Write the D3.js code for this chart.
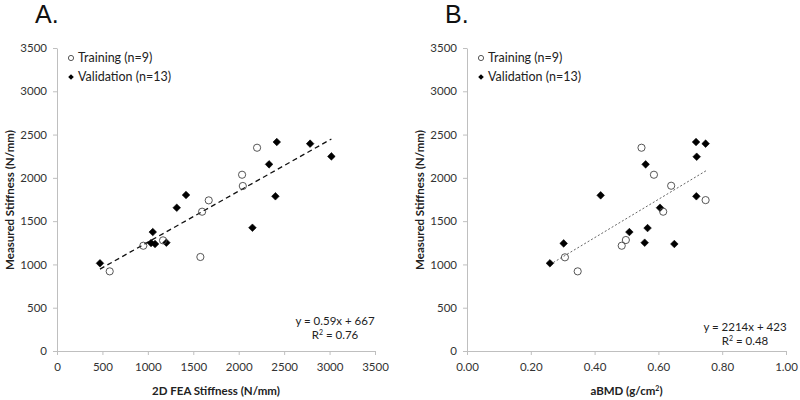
<!DOCTYPE html>
<html><head><meta charset="utf-8">
<script src="https://cdn.jsdelivr.net/npm/d3@7"></script>
<style>body{margin:0;background:#fff}svg{display:block}</style>
</head><body>
<svg id="c" width="800" height="400"></svg>
<script>
// Panel A data: 2D FEA stiffness (N/mm) vs measured stiffness (N/mm)
const trainA_x = [580, 950, 1167, 1578, 1597, 1670, 2037, 2045, 2202];
const trainA_y = [920, 1216, 1278, 1086, 1609, 1740, 2036, 1906, 2348];
const validA_x = [473, 1054, 1035, 1079, 1204, 1318, 1420, 2151, 2334, 2419, 2404, 2786, 3020];
const validA_y = [1013, 1374, 1247, 1236, 1251, 1655, 1802, 1424, 2156, 2414, 1787, 2395, 2248];
// Panel B data: aBMD (g/cm2) vs measured stiffness
const trainB_x = [0.307, 0.347, 0.485, 0.498, 0.615, 0.547, 0.586, 0.640, 0.748];
const trainB_y = [1082, 920, 1216, 1282, 1609, 2348, 2036, 1909, 1743];
const validB_x = [0.260, 0.303, 0.419, 0.509, 0.557, 0.560, 0.566, 0.605, 0.650, 0.718, 0.720, 0.719, 0.748];
const validB_y = [1013, 1243, 1798, 1374, 1251, 2156, 1420, 1655, 1236, 2414, 2244, 1787, 2395];
// Fits
const fitA = {slope: 0.59, intercept: 667, x0: 473, x1: 3020};
const fitB = {slope: 2214, intercept: 423, x0: 0.26, x1: 0.75};
const ticksA_x = [0, 500, 1000, 1500, 2000, 2500, 3000, 3500];
const ticksB_x = [0, 0.2, 0.4, 0.6, 0.8, 1.0];
const ticksY = [0, 500, 1000, 1500, 2000, 2500, 3000, 3500];
const legendLabels = ["Training (n=9)", "Validation (n=13)"];

const svg = d3.select("#c");
const FONT = "Lato, 'Open Sans', sans-serif";
const diamondPath = r => `M0,${-r}L${r},0L0,${r}L${-r},0Z`;

function panel(opt) {
  const g = svg.append("g");
  const x = d3.scaleLinear().domain(opt.xdom).range([opt.left, opt.right]);
  const y = d3.scaleLinear().domain([0, 3500]).range([351, 48]);
  const xa = g.append("g").attr("transform", "translate(0,351)")
    .call(d3.axisBottom(x).tickValues(opt.xticks).tickSize(4).tickSizeOuter(0).tickFormat(opt.xfmt).tickPadding(8));
  const ya = g.append("g").attr("transform", `translate(${opt.left},0)`)
    .call(d3.axisLeft(y).tickValues(ticksY).tickSize(4).tickSizeOuter(0).tickFormat(d3.format("d")).tickPadding(6));
  [xa, ya].forEach(a => {
    a.selectAll("path, line").attr("stroke", "#bfbfbf").attr("stroke-width", 1);
    a.selectAll("text").attr("font-family", FONT).attr("font-size", 11.5).attr("fill", "#333");
  });
  g.append("text").attr("x", opt.left - 22).attr("y", 23).text(opt.letter)
    .attr("font-family", "'Liberation Sans', Arial, sans-serif").attr("font-size", 25).attr("fill", "#111");
  g.append("text").attr("transform", `translate(${opt.left - 43},200) rotate(-90)`)
    .attr("text-anchor", "middle").attr("font-family", FONT).attr("font-weight", "bold")
    .attr("font-size", 11.5).attr("fill", "#222").text("Measured Stiffness (N/mm)");
  const xt = g.append("text").attr("x", (opt.left + opt.right) / 2).attr("y", 395)
    .attr("text-anchor", "middle").attr("font-family", FONT).attr("font-weight", "bold")
    .attr("font-size", 11.5).attr("fill", "#222");
  opt.xtitle(xt);
  g.append("line")
    .attr("x1", x(opt.fit.x0)).attr("y1", y(opt.fit.slope * opt.fit.x0 + opt.fit.intercept))
    .attr("x2", x(opt.fit.x1)).attr("y2", y(opt.fit.slope * opt.fit.x1 + opt.fit.intercept))
    .attr("stroke", opt.fitColor).attr("stroke-width", opt.fitWidth).attr("stroke-dasharray", opt.fitDash);
  g.selectAll(".v").data(opt.vx.map((d, i) => [d, opt.vy[i]])).join("path")
    .attr("d", diamondPath(3.8)).attr("transform", d => `translate(${x(d[0])},${y(d[1])})`)
    .attr("fill", "#000").attr("stroke", "#000").attr("stroke-width", 0.6).attr("stroke-linejoin", "round");
  g.selectAll(".t").data(opt.tx.map((d, i) => [d, opt.ty[i]])).join("circle")
    .attr("cx", d => x(d[0])).attr("cy", d => y(d[1])).attr("r", 3.6)
    .attr("fill", "none").attr("stroke", "#444").attr("stroke-width", 0.9);
  const lx = opt.left + 14;
  g.append("circle").attr("cx", lx).attr("cy", 58).attr("r", 2.6).attr("fill", "none").attr("stroke", "#444").attr("stroke-width", 0.9);
  g.append("path").attr("d", diamondPath(2.8)).attr("transform", `translate(${lx},77)`).attr("fill", "#000");
  legendLabels.forEach((t, i) => {
    g.append("text").attr("x", lx + 7).attr("y", 62 + i * 19).text(t)
      .attr("font-family", FONT).attr("font-size", 12.5).attr("fill", "#222");
  });
  const eq = g.append("text").attr("text-anchor", "middle").attr("font-family", FONT)
    .attr("font-size", 11.5).attr("fill", "#222");
  eq.append("tspan").attr("x", opt.eqx).attr("y", opt.eqy).text(opt.eq1);
  const r = eq.append("tspan").attr("x", opt.eqx).attr("y", opt.eqy + 14);
  r.append("tspan").text("R");
  r.append("tspan").attr("font-size", 7).attr("dy", -4).text("2");
  r.append("tspan").attr("dy", 4).text(" = " + opt.r2);
}

panel({
  letter: "A.", left: 57, right: 375, xdom: [0, 3500], xticks: ticksA_x, xfmt: d3.format("d"),
  xtitle: t => t.text("2D FEA Stiffness (N/mm)"),
  fit: fitA, fitColor: "#111", fitWidth: 1.3, fitDash: "5,3.5",
  tx: trainA_x, ty: trainA_y, vx: validA_x, vy: validA_y,
  eqx: 335, eqy: 325, eq1: "y = 0.59x + 667", r2: "0.76"
});
panel({
  letter: "B.", left: 467, right: 786, xdom: [0, 1], xticks: ticksB_x, xfmt: d3.format(".2f"),
  xtitle: t => { t.append("tspan").text("aBMD (g/cm"); t.append("tspan").attr("font-size", 7).attr("dy", -4).text("2"); t.append("tspan").attr("dy", 4).text(")"); },
  fit: fitB, fitColor: "#666", fitWidth: 1, fitDash: "2,2",
  tx: trainB_x, ty: trainB_y, vx: validB_x, vy: validB_y,
  eqx: 745, eqy: 331, eq1: "y = 2214x + 423", r2: "0.48"
});
</script>
</body></html>
